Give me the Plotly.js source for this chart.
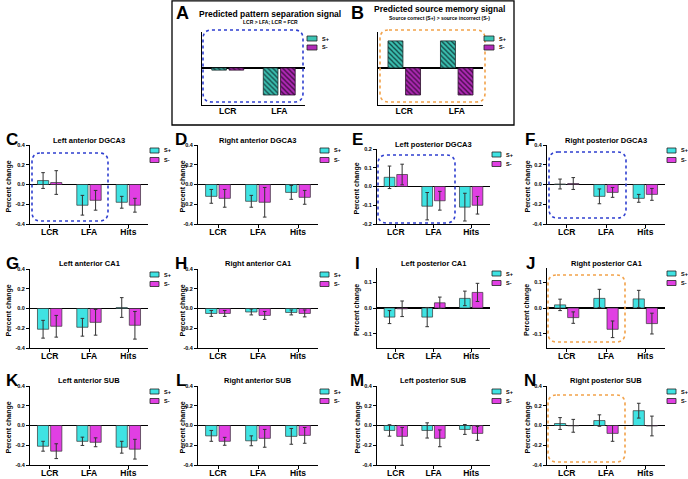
<!DOCTYPE html>
<html><head><meta charset="utf-8">
<script src="https://cdn.plot.ly/plotly-3.0.1.min.js"></script>
<style>html,body{margin:0;padding:0;background:#fff}#chart{width:688px;height:479px}</style>
</head><body><div id="chart"></div>
<script>
// ---------- DATA ----------
const categories = ["LCR", "LFA", "Hits"];
const schemCategories = ["LCR", "LFA"];
const seriesNames = ["S+", "S-"];

const yTicksWide = [-0.4, -0.2, 0, 0.2, 0.4];
const yTickTextWide = ["-0.4", "-0.2", "0.0", "0.2", "0.4"];
const yTicksE = [-0.2, -0.1, 0, 0.1, 0.2];
const yTickTextE = ["-0.2", "-0.1", "0.0", "0.1", "0.2"];
const yTicksNarrow = [-0.1, 0, 0.1];
const yTickTextNarrow = ["-0.1", "0.0", "0.1"];

// A / B schematic predictions
const A_sPlus = [-0.08, -1];
const A_sMinus = [-0.08, -1];
const B_sPlus = [1, 1];
const B_sMinus = [-1, -1];

// C Left anterior DGCA3
const C_sPlus = [0.04, -0.21, -0.18];   const C_sPlusErr = [0.08, 0.10, 0.06];
const C_sMinus = [0.02, -0.16, -0.21];  const C_sMinusErr = [0.12, 0.10, 0.07];
// D Right anterior DGCA3
const D_sPlus = [-0.12, -0.17, -0.08];  const D_sPlusErr = [0.07, 0.06, 0.07];
const D_sMinus = [-0.14, -0.18, -0.13]; const D_sMinusErr = [0.09, 0.15, 0.07];
// E Left posterior DGCA3
const E_sPlus = [0.049, -0.105, -0.11]; const E_sPlusErr = [0.06, 0.073, 0.074];
const E_sMinus = [0.064, -0.076, -0.10];const E_sMinusErr = [0.055, 0.05, 0.047];
// F Right posterior DGCA3
const F_sPlus = [0.005, -0.12, -0.14];  const F_sPlusErr = [0.05, 0.075, 0.04];
const F_sMinus = [0.01, -0.08, -0.10];  const F_sMinusErr = [0.06, 0.05, 0.06];
// G Left anterior CA1
const G_sPlus = [-0.21, -0.19, 0.01];   const G_sPlusErr = [0.09, 0.09, 0.10];
const G_sMinus = [-0.18, -0.14, -0.17]; const G_sMinusErr = [0.11, 0.13, 0.14];
// H Right anterior CA1
const H_sPlus = [-0.05, -0.035, -0.04]; const H_sPlusErr = [0.03, 0.03, 0.025];
const H_sMinus = [-0.05, -0.07, -0.05]; const H_sMinusErr = [0.03, 0.04, 0.035];
// I Left posterior CA1
const I_sPlus = [-0.035, -0.035, 0.037];const I_sPlusErr = [0.025, 0.037, 0.028];
const I_sMinus = [-0.003, 0.02, 0.06];  const I_sMinusErr = [0.03, 0.022, 0.035];
// J Right posterior CA1
const J_sPlus = [0.012, 0.037, 0.035];  const J_sPlusErr = [0.022, 0.035, 0.033];
const J_sMinus = [-0.037, -0.082, -0.06];const J_sMinusErr = [0.022, 0.032, 0.04];
// K Left anterior SUB
const K_sPlus = [-0.21, -0.16, -0.22];  const K_sPlusErr = [0.05, 0.042, 0.06];
const K_sMinus = [-0.26, -0.17, -0.24]; const K_sMinusErr = [0.075, 0.045, 0.10];
// L Right anterior SUB
const L_sPlus = [-0.105, -0.155, -0.11];const L_sPlusErr = [0.055, 0.05, 0.08];
const L_sMinus = [-0.16, -0.13, -0.10]; const L_sMinusErr = [0.04, 0.09, 0.08];
// M Left posterior SUB
const M_sPlus = [-0.05, -0.05, -0.04];  const M_sPlusErr = [0.058, 0.077, 0.05];
const M_sMinus = [-0.11, -0.13, -0.08]; const M_sMinusErr = [0.09, 0.085, 0.07];
// N Right posterior SUB
const N_sPlus = [0.02, 0.05, 0.15];     const N_sPlusErr = [0.06, 0.058, 0.075];
const N_sMinus = [-0.003, -0.08, -0.005];const N_sMinusErr = [0.065, 0.08, 0.10];

// ---------- LAYOUT HELPERS ----------
const W = 688, H = 479;
const px = x => x / W, py = y => 1 - y / H;
const FONT = "Liberation Sans, Arial, Helvetica, sans-serif";
const CYAN = "#3fe3e3", MAG = "#e13fe3";
const BLUE = "#2f3fd0", ORANGE = "#f2a24a";

const cols = [[30, 148], [198, 318], [377, 490], [547, 665]];
const rows = [[145, 224], [269, 348], [386, 465]];

const panels = [
  {L:"C", t:"Left anterior DGCA3", c:0, r:0, sp:C_sPlus, spe:C_sPlusErr, sm:C_sMinus, sme:C_sMinusErr, ty:"wide", box:[32,153,108,221,BLUE]},
  {L:"D", t:"Right anterior DGCA3", c:1, r:0, sp:D_sPlus, spe:D_sPlusErr, sm:D_sMinus, sme:D_sMinusErr, ty:"wide"},
  {L:"E", t:"Left posterior DGCA3", c:2, r:0, sp:E_sPlus, spe:E_sPlusErr, sm:E_sMinus, sme:E_sMinusErr, ty:"E", top:149, box:[378,155,455,223,BLUE]},
  {L:"F", t:"Right posterior DGCA3", c:3, r:0, sp:F_sPlus, spe:F_sPlusErr, sm:F_sMinus, sme:F_sMinusErr, ty:"wide", box:[549,152,626,218,BLUE]},
  {L:"G", t:"Left anterior CA1", c:0, r:1, sp:G_sPlus, spe:G_sPlusErr, sm:G_sMinus, sme:G_sMinusErr, ty:"wide"},
  {L:"H", t:"Right anterior CA1", c:1, r:1, sp:H_sPlus, spe:H_sPlusErr, sm:H_sMinus, sme:H_sMinusErr, ty:"wide"},
  {L:"I", t:"Left posterior CA1", c:2, r:1, sp:I_sPlus, spe:I_sPlusErr, sm:I_sMinus, sme:I_sMinusErr, ty:"narrow", top:268},
  {L:"J", t:"Right posterior CA1", c:3, r:1, sp:J_sPlus, spe:J_sPlusErr, sm:J_sMinus, sme:J_sMinusErr, ty:"narrow", top:268, box:[548,275,625,342,ORANGE]},
  {L:"K", t:"Left anterior SUB", c:0, r:2, sp:K_sPlus, spe:K_sPlusErr, sm:K_sMinus, sme:K_sMinusErr, ty:"wide"},
  {L:"L", t:"Right anterior SUB", c:1, r:2, sp:L_sPlus, spe:L_sPlusErr, sm:L_sMinus, sme:L_sMinusErr, ty:"wide"},
  {L:"M", t:"Left posterior SUB", c:2, r:2, sp:M_sPlus, spe:M_sPlusErr, sm:M_sMinus, sme:M_sMinusErr, ty:"wide"},
  {L:"N", t:"Right posterior SUB", c:3, r:2, sp:N_sPlus, spe:N_sPlusErr, sm:N_sMinus, sme:N_sMinusErr, ty:"wide", box:[548,395,625,462,ORANGE]}
];
const letterX = [12, 181, 357, 530];
const ylabX = [8, 182, 357, 527];

function roundRect(x0, y0, x1, y1, r, color) {
  const X0 = px(x0), X1 = px(x1), Y0 = py(y0), Y1 = py(y1);
  const rx = r / W, ry = r / H;
  const p = `M ${X0+rx},${Y0} L ${X1-rx},${Y0} Q ${X1},${Y0} ${X1},${Y0-ry} L ${X1},${Y1+ry} Q ${X1},${Y1} ${X1-rx},${Y1} L ${X0+rx},${Y1} Q ${X0},${Y1} ${X0},${Y1+ry} L ${X0},${Y0-ry} Q ${X0},${Y0} ${X0+rx},${Y0} Z`;
  return {type:"path", xref:"paper", yref:"paper", path:p, line:{color:color, width:1.6, dash:"dot"}, layer:"above"};
}
function ann(text, x, y, size, opts) {
  return Object.assign({text:text, x:px(x), y:py(y), xref:"paper", yref:"paper", showarrow:false,
    xanchor:"center", yanchor:"middle", font:{family:FONT, size:size, color:"#000", weight:"bold"}}, opts || {});
}
function swatch(x, y, w, h, fill) {
  return {type:"rect", xref:"paper", yref:"paper", x0:px(x), x1:px(x+w), y0:py(y+h), y1:py(y),
    fillcolor:fill, line:{color:"#222", width:0.8}, layer:"above"};
}

const data = [], shapes = [], annotations = [];
const layout = {
  width:W, height:H, margin:{l:0, r:0, t:0, b:0}, paper_bgcolor:"#fff", plot_bgcolor:"rgba(0,0,0,0)",
  showlegend:false, barmode:"group", bargap:0.33, bargroupgap:0.15,
  font:{family:FONT, color:"#000"}
};

// ---------- schematic panels A, B ----------
const schem = [
  {L:"A", sp:A_sPlus, sm:A_sMinus, x:[202,305], title:"Predicted pattern separation signal", sub:"LCR > LFA; LCR = FCR", tx:270, ty:14, sy:22.5, lx:183, box:[203,30,303,102,BLUE], leg:307},
  {L:"B", sp:B_sPlus, sm:B_sMinus, x:[378,483], title:"Predicted source memory signal", sub:"Source correct (S+) > source incorrect (S-)", tx:439, ty:9.5, sy:17.5, lx:357, box:[380,30,485,102,ORANGE], leg:484}
];
const patPlus = {shape:"\\", bgcolor:"#3cc4b4", fgcolor:"#0f3c3c", size:3.5, solidity:0.35};
const patMinus = {shape:"\\", bgcolor:"#b22ab8", fgcolor:"#3a0a3c", size:3.5, solidity:0.35};
schem.forEach((s, i) => {
  const n = 13 + i;
  const xa = "x" + n, ya = "y" + n;
  data.push({type:"bar", name:seriesNames[0], x:schemCategories, y:s.sp, xaxis:xa, yaxis:ya,
    marker:{color:"#3cc4b4", pattern:patPlus, line:{color:"#1a2a2a", width:0.8}}});
  data.push({type:"bar", name:seriesNames[1], x:schemCategories, y:s.sm, xaxis:xa, yaxis:ya,
    marker:{color:"#b22ab8", pattern:patMinus, line:{color:"#2a102a", width:0.8}}});
  layout["xaxis" + n] = {domain:[px(s.x[0]), px(s.x[1])], anchor:ya, type:"category", showline:true, linecolor:"#000", linewidth:1,
    ticks:"", ticklabelstandoff:-2, tickfont:{family:FONT, size:8.5, weight:"bold"}, showgrid:false, zeroline:false, fixedrange:true};
  layout["yaxis" + n] = {domain:[py(105), py(32)], anchor:xa, range:[-1.37, 1.33], showline:true, linecolor:"#000", linewidth:1,
    showticklabels:false, ticks:"", showgrid:false, zeroline:true, zerolinecolor:"#000", zerolinewidth:1.2, fixedrange:true};
  annotations.push(ann(s.L, s.lx, 13, 18));
  annotations.push(ann(s.title, s.tx, s.ty, 8.5));
  annotations.push(ann(s.sub, s.tx, s.sy, 5));
  shapes.push(roundRect(s.box[0], s.box[1], s.box[2], s.box[3], 9, s.box[4]));
  shapes.push(swatch(s.leg, 36, 10, 5, "#3cc4b4"));
  shapes.push(swatch(s.leg, 45, 10, 5, "#b22ab8"));
  annotations.push(ann(seriesNames[0], s.leg + 13, 38.5, 5.5, {xanchor:"left"}));
  annotations.push(ann(seriesNames[1], s.leg + 13, 47.5, 5.5, {xanchor:"left"}));
});
// outer box around A/B
shapes.push({type:"rect", xref:"paper", yref:"paper", x0:px(172), x1:px(514), y0:py(125), y1:py(0.8), line:{color:"#000", width:1.3}, fillcolor:"rgba(0,0,0,0)"});

// ---------- data panels C..N ----------
const titleY = [140, 263, 380];
const letterY = [139, 263, 380];
panels.forEach((p, i) => {
  const n = i + 1;
  const xa = "x" + n, ya = "y" + n;
  const xr = cols[p.c];
  const top = p.top || rows[p.r][0], bot = rows[p.r][1];
  const errStyle = {color:"#333", thickness:1, width:1.8, visible:true, type:"data"};
  data.push({type:"bar", name:seriesNames[0], x:categories, y:p.sp, xaxis:xa, yaxis:ya,
    marker:{color:CYAN, line:{color:"#333", width:0.7}}, error_y:Object.assign({array:p.spe}, errStyle)});
  data.push({type:"bar", name:seriesNames[1], x:categories, y:p.sm, xaxis:xa, yaxis:ya,
    marker:{color:MAG, line:{color:"#333", width:0.7}}, error_y:Object.assign({array:p.sme}, errStyle)});
  let range, tv, tt;
  if (p.ty === "wide") { range = [-0.4, 0.4]; tv = yTicksWide; tt = yTickTextWide; }
  else if (p.ty === "E") { range = [-0.2, 0.2]; tv = yTicksE; tt = yTickTextE; }
  else { range = [-0.154, 0.154]; tv = yTicksNarrow; tt = yTickTextNarrow; }
  layout["xaxis" + n] = {domain:[px(xr[0]), px(xr[1])], anchor:ya, type:"category", showline:true, linecolor:"#000", linewidth:1,
    ticks:"outside", ticklen:2.5, tickcolor:"#000", tickwidth:1, ticklabelstandoff:-3, tickfont:{family:FONT, size:8.5, weight:"bold"},
    showgrid:false, zeroline:false, fixedrange:true};
  layout["yaxis" + n] = {domain:[py(bot), py(top)], anchor:xa, range:range, tickvals:tv, ticktext:tt,
    showline:true, linecolor:"#000", linewidth:1, ticks:"outside", ticklen:3, tickcolor:"#000", tickwidth:1,
    tickfont:{family:FONT, size:5.5, weight:"bold"}, showgrid:false, zeroline:true, zerolinecolor:"#000", zerolinewidth:1.4, fixedrange:true};
  const cx = (xr[0] + xr[1]) / 2;
  annotations.push(ann(p.t, cx, p.L === "E" ? 144 : titleY[p.r], 7.5));
  annotations.push(ann(p.L, letterX[p.c], letterY[p.r], 17));
  annotations.push(ann("Percent change", ylabX[p.c], (top + bot) / 2 + 2, 7, {textangle:-90}));
  if (p.box) shapes.push(roundRect(p.box[0], p.box[1], p.box[2], p.box[3], 9, p.box[4]));
  const lx = xr[1] + 2, ly = top + 3;
  shapes.push(swatch(lx, ly, 9, 5, CYAN));
  shapes.push(swatch(lx, ly + 9.5, 9, 5, MAG));
  annotations.push(ann(seriesNames[0], lx + 12, ly + 2.5, 5.5, {xanchor:"left"}));
  annotations.push(ann(seriesNames[1], lx + 12, ly + 12, 5.5, {xanchor:"left"}));
});
layout.shapes = shapes;
layout.annotations = annotations;
Plotly.newPlot("chart", data, layout, {staticPlot:true, displayModeBar:false});
</script>
</body></html>
